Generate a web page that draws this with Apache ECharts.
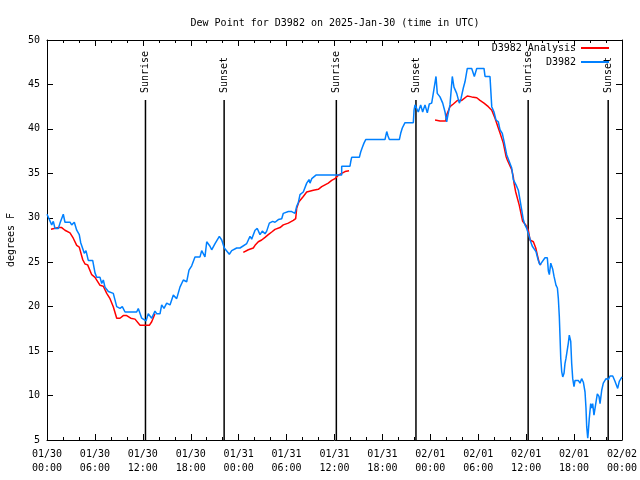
<!DOCTYPE html>
<html>
<head>
<meta charset="utf-8">
<script src="https://cdn.jsdelivr.net/npm/echarts@6/dist/echarts.min.js"></script>
<style>html,body{margin:0;padding:0;background:#fff}#c{width:640px;height:480px}</style>
</head>
<body>
<div id="c"></div>
<script>
// Hours since 2025-01-30 00:00 UTC
const xTickLabels = ['01/30\n00:00','01/30\n06:00','01/30\n12:00','01/30\n18:00','01/31\n00:00','01/31\n06:00','01/31\n12:00','01/31\n18:00','02/01\n00:00','02/01\n06:00','02/01\n12:00','02/01\n18:00','02/02\n00:00'];

const obsHours = [0.0,0.59,0.79,1.0,1.42,1.63,2.04,2.25,2.88,3.09,3.42,3.72,3.92,4.04,4.22,4.47,4.67,4.88,5.17,5.72,6.01,6.22,6.64,6.85,7.05,7.26,7.68,7.89,8.30,8.73,9.14,9.43,9.77,11.23,11.43,11.86,12.40,12.68,13.11,13.52,13.74,14.15,14.36,14.65,14.99,15.40,15.82,16.24,16.65,17.07,17.49,17.78,18.12,18.53,19.16,19.37,19.78,20.0,20.41,20.62,21.04,21.58,21.88,22.20,22.83,23.13,23.75,24.17,24.38,25.01,25.21,25.42,25.63,26.05,26.33,26.67,26.96,27.30,27.51,27.84,28.26,28.55,28.97,29.18,29.39,29.59,29.80,30.22,30.64,31.05,31.27,31.47,31.68,32.09,32.52,32.81,32.93,33.15,33.68,36.90,36.90,37.94,38.03,38.15,39.11,39.28,39.48,39.69,39.91,42.32,42.54,42.70,42.87,44.12,44.29,44.49,44.83,45.87,45.96,46.08,46.29,46.49,46.79,47.04,47.33,47.62,47.87,48.17,48.37,48.71,48.87,49.21,49.55,49.84,50.05,50.17,50.46,50.75,50.96,51.30,51.63,51.84,52.13,52.34,52.63,53.18,53.51,53.81,54.72,54.85,55.47,55.69,55.97,56.22,56.51,56.72,57.01,57.23,57.56,57.76,58.19,58.39,58.73,59.02,59.23,59.44,59.64,59.85,60.07,60.39,60.57,60.77,61.02,61.23,61.52,61.73,61.95,62.36,62.65,62.78,62.90,63.08,63.33,63.49,63.74,63.91,64.03,64.15,64.24,64.33,64.45,64.58,64.74,64.86,64.99,65.15,65.28,65.40,65.58,65.70,65.83,65.99,66.12,66.53,66.74,66.95,67.16,67.37,67.49,67.58,67.71,67.78,67.90,68.08,68.20,68.33,68.49,68.75,68.91,69.12,69.25,69.46,69.66,70.0,70.29,70.50,70.84,71.12,71.46,71.66,71.75,72.0];
const obsDew = [30.4,29.2,29.6,28.8,28.8,29.4,30.4,29.5,29.5,29.2,29.5,28.6,28.6,28.1,27.2,27.4,26.0,26.3,25.2,25.2,23.8,23.3,23.3,22.6,23.0,22.2,21.7,21.7,21.5,20.0,19.8,20.0,19.4,19.4,19.8,18.7,18.4,19.2,18.7,19.5,19.2,19.2,20.2,19.8,20.4,20.2,21.3,20.9,22.2,23.0,22.8,24.1,24.6,25.6,25.6,26.3,25.6,27.3,26.8,26.4,27.1,27.9,27.5,26.6,25.9,26.3,26.6,26.6,26.8,27.1,27.5,27.9,27.6,28.6,28.8,28.1,28.5,28.2,28.5,29.4,29.6,29.5,29.8,29.6,29.9,30.5,30.3,30.7,30.7,30.5,31.3,31.7,32.6,32.9,33.9,34.3,33.9,34.4,34.8,34.8,35.8,35.8,36.3,36.8,36.8,37.4,37.9,38.4,38.8,38.8,39.7,39.2,38.8,38.8,39.5,40.1,40.7,40.7,42.1,42.7,42.9,41.9,42.7,41.9,42.7,41.8,42.8,42.9,44.0,45.9,44.0,43.6,42.9,41.9,40.8,41.4,42.7,45.9,44.7,44.0,42.9,43.4,44.6,45.3,46.8,46.8,45.9,46.8,46.8,45.9,45.9,42.5,41.9,41.0,40.8,39.9,39.5,38.6,37.1,37.1,35.6,34.3,33.7,33.1,32.0,30.9,29.8,29.2,28.8,27.9,27.3,26.8,26.7,26.2,25.2,24.7,24.9,25.5,25.5,24.0,23.6,24.9,24.2,23.4,22.4,22.1,20.9,18.9,16.6,14.2,12.7,12.1,12.5,13.6,14.2,14.4,15.9,16.8,16.1,13.6,11.9,11.0,11.7,11.7,11.4,11.9,11.5,10.4,8.6,6.5,5.2,5.9,7.4,9.1,8.6,9.1,7.8,9.3,10.2,9.9,9.1,10.6,11.4,11.9,11.8,12.2,12.2,11.6,10.8,11.6,11.8,12.1];

// Analysis (null = gap)
const anaHours = [0.50,1.42,1.84,2.25,2.88,3.29,3.72,4.04,4.47,4.76,5.09,5.60,6.01,6.64,7.05,7.48,7.89,8.30,8.73,9.14,9.55,9.98,10.48,11.02,11.65,12.81,13.11,13.52,
  18.0,
  24.58,25.21,25.83,26.05,26.46,26.88,27.30,27.71,28.14,28.55,29.18,29.59,30.22,30.84,31.14,31.27,31.55,32.09,32.52,33.35,33.97,34.40,34.81,35.22,35.65,36.06,36.48,36.90,37.32,37.82,
  43.0,
  48.59,49.21,49.92,50.05,50.46,50.88,51.38,51.93,52.63,53.18,53.81,54.22,54.72,55.26,55.69,56.10,56.51,56.81,57.14,57.48,57.64,58.19,58.39,58.48,58.69,59.14,59.35,59.56,59.94,60.27,60.48,60.90,61.20,61.40,61.65,61.86];
const anaDew = [28.7,28.9,28.9,28.6,28.3,27.7,26.9,26.7,25.3,24.8,24.7,23.6,23.3,22.4,22.3,21.5,20.9,20.0,18.7,18.7,19.0,19.0,18.7,18.6,17.9,17.9,18.3,19.2,
  null,
  26.1,26.4,26.6,26.9,27.3,27.5,27.8,28.1,28.4,28.7,28.9,29.2,29.4,29.7,29.9,31.1,31.8,32.4,32.9,33.1,33.2,33.5,33.7,33.9,34.2,34.4,34.8,35.0,35.2,35.3,
  null,
  41.0,40.9,40.9,41.6,42.5,42.8,43.2,43.2,43.7,43.6,43.5,43.2,42.9,42.5,42.1,41.2,40.1,39.3,38.4,36.9,36.5,35.4,34.6,33.9,32.9,31.4,30.5,29.6,29.2,28.6,27.5,27.3,26.6,25.8,24.9,24.7];

const sunHours = [12.33, 22.18, 36.23, 46.20, 60.25, 70.27];
const sunLabels = ['Sunrise','Sunset','Sunrise','Sunset','Sunrise','Sunset'];

const FONT = '"DejaVu Sans Mono", "Liberation Mono", monospace';
const chart = echarts.init(document.getElementById('c'), null, {renderer:'canvas'});

const xCommon = {
  type:'value', min:0, max:72, interval:6,
  axisLine:{show:true, onZero:false, lineStyle:{color:'#000', width:1}},
  axisTick:{show:true, inside:true, length:6, lineStyle:{color:'#000'}},
  minorTick:{show:true, splitNumber:3, length:3, lineStyle:{color:'#000'}},
  splitLine:{show:false}
};
const yCommon = {
  type:'value', min:5, max:50, interval:5,
  axisLine:{show:true, onZero:false, lineStyle:{color:'#000', width:1}},
  axisTick:{show:true, inside:true, length:6, lineStyle:{color:'#000'}},
  splitLine:{show:false}
};

chart.setOption({
  animation:false,
  backgroundColor:'#fff',
  title:{text:'Dew Point for D3982 on 2025-Jan-30 (time in UTC)', left:330, top:13, textAlign:'center',
    textStyle:{fontFamily:FONT, fontSize:10, fontWeight:'normal', color:'#000'}},
  grid:{left:47, right:18, top:40, bottom:40, outerBoundsMode:'none', containLabel:false},
  legend:[
    {data:['D3982 Analysis'], right:31, top:43, padding:0, align:'right', itemWidth:28, itemHeight:2, icon:'rect',
      textStyle:{fontFamily:FONT, fontSize:10, color:'#000'}},
    {data:['D3982'], right:31, top:57, padding:0, align:'right', itemWidth:28, itemHeight:2, icon:'rect',
      textStyle:{fontFamily:FONT, fontSize:10, color:'#000'}}
  ],
  xAxis:[
    Object.assign({}, xCommon, {position:'bottom',
      axisLabel:{show:true, margin:7, fontFamily:FONT, fontSize:10, color:'#000', lineHeight:14,
        formatter:(v)=>xTickLabels[Math.round(v/6)]}}),
    Object.assign({}, xCommon, {position:'top', axisLabel:{show:false}})
  ],
  yAxis:[
    Object.assign({}, yCommon, {position:'left', name:'degrees F', nameLocation:'middle', nameGap:31, nameRotate:90,
      nameTextStyle:{fontFamily:FONT, fontSize:10, color:'#000'},
      axisLabel:{show:true, margin:7, fontFamily:FONT, fontSize:10, color:'#000'}}),
    Object.assign({}, yCommon, {position:'right', axisLabel:{show:false}})
  ],
  series:[
    {name:'D3982 Analysis', type:'line', xAxisIndex:0, yAxisIndex:0, showSymbol:false, symbol:'none',
      connectNulls:false, color:'#ff0000', lineStyle:{color:'#ff0000', width:1.5},
      data: anaHours.map((h,i)=>[h, anaDew[i]===null ? '-' : anaDew[i]])},
    {name:'D3982', type:'line', xAxisIndex:0, yAxisIndex:0, showSymbol:false, symbol:'none',
      color:'#0080ff', lineStyle:{color:'#0080ff', width:1.5},
      data: obsHours.map((h,i)=>[h, obsDew[i]])},
    {name:'sun', type:'custom', xAxisIndex:0, yAxisIndex:0, encode:{x:0, y:1},
      data: sunHours.map(h=>[h, 5]),
      renderItem:(params, api)=>{
        const h = api.value(0);
        const p0 = api.coord([h, 5]);
        const p1 = api.coord([h, 43.25]);
        return {type:'group', children:[
          {type:'line', shape:{x1:p0[0], y1:p0[1], x2:p1[0], y2:p1[1]}, style:{stroke:'#000', lineWidth:1.5}},
          {type:'text', x:p1[0], y:p1[1]-7, rotation:Math.PI/2,
            style:{text:sunLabels[params.dataIndex], font:'10px ' + FONT, fill:'#000', align:'left', verticalAlign:'middle'}}
        ]};
      }}
  ]
});
</script>
</body>
</html>
